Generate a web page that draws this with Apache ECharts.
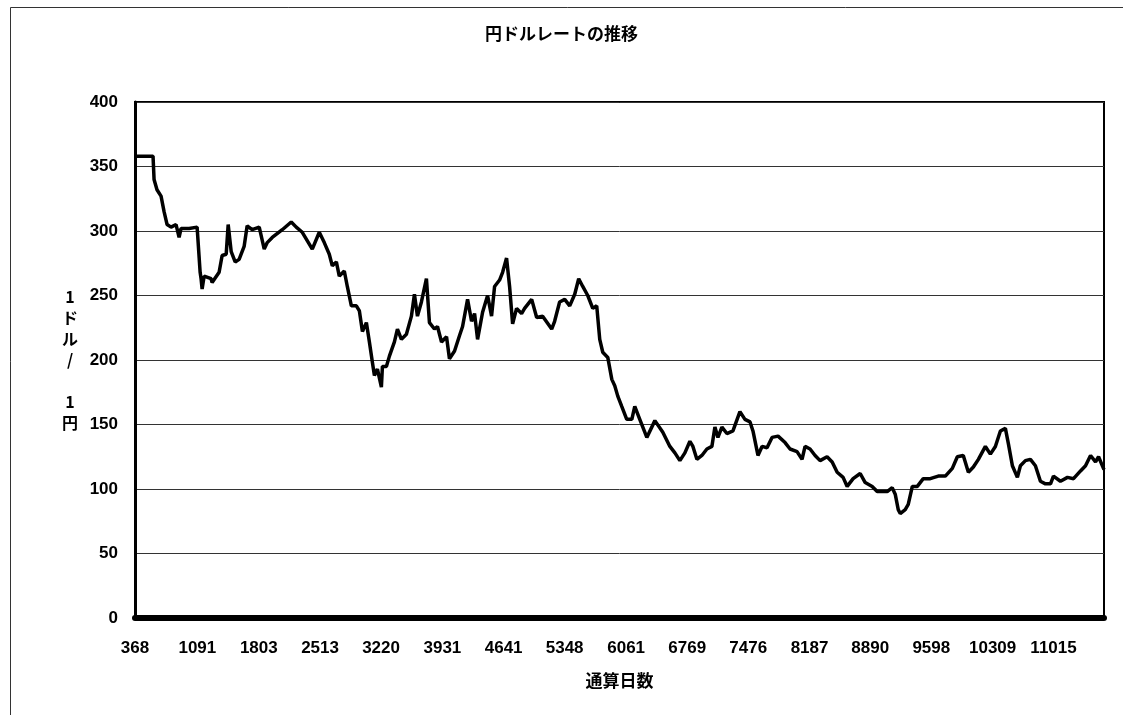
<!DOCTYPE html>
<html>
<head>
<meta charset="utf-8">
<script src="https://cdn.jsdelivr.net/npm/echarts@6.0.0/dist/echarts.min.js"></script>
<style>
  html, body { margin: 0; padding: 0; background: #fff; }
  #chart { width: 1123px; height: 715px; }
</style>
</head>
<body>
<div id="chart"></div>
<script>
  // 通算日数の目盛り
  var xTickLabels = [368, 1091, 1803, 2513, 3220, 3931, 4641, 5348, 6061, 6769, 7476, 8187, 8890, 9598, 10309, 11015];

  // 通算日数（読み取り）
  var days = [
    368, 577, 589, 623, 670, 705, 740, 786, 844, 879, 902, 995, 1088, 1111,
    1123, 1134, 1146, 1169, 1250, 1262, 1343, 1378, 1425, 1448, 1483, 1529, 1575, 1633,
    1668, 1726, 1808, 1866, 1901, 1959, 2075, 2179, 2237, 2307, 2423, 2504,
    2562, 2620, 2655, 2702, 2736, 2794, 2829, 2876, 2934, 2969, 3004, 3050, 3085,
    3120, 3143, 3178, 3224, 3236, 3282, 3317, 3375, 3410, 3456, 3514, 3572, 3607,
    3642, 3688, 3746, 3781, 3839, 3874, 3921, 3979, 4013, 4072, 4130, 4165, 4223,
    4269, 4304, 4339, 4397, 4455, 4501, 4536, 4594, 4629, 4675, 4710, 4745, 4791,
    4849, 4884, 4966, 5024, 5093, 5198, 5232, 5290, 5349, 5407, 5465, 5511, 5558,
    5616, 5674, 5720, 5755, 5790, 5848, 5895, 5929, 5964, 6010, 6068, 6127, 6161,
    6219, 6301, 6394, 6486, 6568, 6626, 6684, 6742, 6800, 6835, 6881, 6939, 6997,
    7055, 7090, 7125, 7171, 7229, 7299, 7380, 7438, 7497, 7531, 7589, 7636, 7694,
    7752, 7822, 7903, 7961, 8042, 8100, 8135, 8193, 8251, 8309, 8390, 8449, 8507,
    8576, 8623, 8692, 8774, 8832, 8913, 8971, 9041, 9087, 9145, 9180, 9215, 9238,
    9296, 9331, 9378, 9436, 9505, 9586, 9679, 9761, 9842, 9900, 9969, 10028, 10086,
    10144, 10225, 10283, 10341, 10399, 10457, 10492, 10538, 10596, 10631, 10689, 10747, 10805,
    10863, 10921, 10980, 11014, 11095, 11177, 11247, 11328, 11386, 11444, 11502, 11537, 11600
  ];

  // 1ドル/1円（読み取り）
  var rates = [
    358, 358, 340, 332, 327, 315, 305, 303, 305, 295, 302, 302, 303, 302,
    268, 263, 255, 265, 263, 260, 268, 281, 282, 305, 284, 276, 278, 288,
    304, 301, 303, 286, 291, 295, 301, 307, 303, 299, 286, 299,
    291, 282, 273, 276, 265, 269, 257, 242, 242, 238, 222, 229, 214,
    198, 188, 193, 179, 195, 195, 203, 214, 224, 216, 220, 234, 251,
    234, 245, 263, 229, 224, 226, 214, 218, 201, 207, 219, 226, 247,
    230, 236, 216, 237, 250, 234, 257, 262, 268, 279, 257, 228, 240,
    236, 240, 247, 233, 234, 224, 230, 245, 247, 242, 251, 263, 257,
    250, 240, 242, 216, 206, 202, 185, 180, 172, 164, 154, 154, 164,
    154, 140, 153, 144, 133, 128, 122, 128, 137, 133, 123, 126, 131,
    133, 148, 140, 148, 143, 145, 160, 154, 152, 145, 126, 133, 132,
    140, 141, 136, 131, 129, 123, 133, 131, 126, 122, 125, 121, 113,
    109, 102, 108, 112, 105, 102, 98, 98, 98, 101, 96, 84, 81,
    84, 88, 102, 102, 108, 108, 110, 110, 116, 125, 126, 113, 117,
    123, 133, 127, 133, 145, 147, 135, 118, 109, 118, 122, 123, 118,
    106, 104, 104, 110, 106, 109, 108, 114, 118, 126, 121, 125, 115
  ];

  var fontEn = '"Liberation Sans", Arial, sans-serif';
  var fontJa = '"Noto Sans CJK JP", sans-serif';

  var chart = echarts.init(document.getElementById('chart'), null, { renderer: 'canvas' });

  var option = {
    backgroundColor: '#fff',
    animation: false,
    title: {
      text: '円ドルレートの推移',
      left: 'center',
      top: 20,
      textStyle: { fontFamily: fontJa, fontSize: 17, fontWeight: 'bold', color: '#000' }
    },
    graphic: [
      {
        type: 'rect',
        left: 8, top: 5,
        shape: { width: 1200, height: 800 },
        style: { fill: null, stroke: '#333', lineWidth: 1 },
        silent: true
      }
    ],
    grid: {
      left: 135,
      right: 19,
      top: 102,
      bottom: 97,
      show: true,
      borderColor: '#000',
      borderWidth: 2
    },
    xAxis: {
      type: 'value',
      min: 368,
      max: 11600,
      name: '通算日数',
      nameLocation: 'middle',
      nameGap: 63,
      nameTextStyle: { fontFamily: fontJa, fontSize: 17, fontWeight: 'bold', color: '#000', verticalAlign: 'middle' },
      axisLine: { show: true, lineStyle: { color: '#000', width: 6 } },
      axisTick: { show: false },
      splitLine: { show: false },
      axisLabel: {
        customValues: xTickLabels,
        formatter: function (v) { return String(v); },
        margin: 22,
        fontFamily: fontEn,
        fontSize: 17,
        fontWeight: 'bold',
        color: '#000'
      }
    },
    yAxis: {
      type: 'value',
      min: 0,
      max: 400,
      interval: 50,
      name: '1\nド\nル\n/\n\n1\n円',
      nameLocation: 'middle',
      nameRotate: 0,
      nameGap: 65,
      nameTextStyle: { fontFamily: fontJa, fontSize: 16, fontWeight: 'bold', color: '#000', lineHeight: 21, align: 'center', verticalAlign: 'middle' },
      axisLine: { show: true, lineStyle: { color: '#000', width: 3 } },
      axisTick: { show: false },
      splitLine: { show: true, lineStyle: { color: '#333', width: 1 } },
      axisLabel: {
        margin: 17,
        fontFamily: fontEn,
        fontSize: 17,
        fontWeight: 'bold',
        color: '#000'
      }
    },
    series: [
      {
        name: '円ドルレート',
        type: 'line',
        data: days.map(function (d, i) { return [d, rates[i]]; }),
        showSymbol: false,
        smooth: false,
        lineStyle: { color: '#000', width: 3.5 },
        silent: true
      }
    ]
  };

  chart.setOption(option);
</script>
</body>
</html>
